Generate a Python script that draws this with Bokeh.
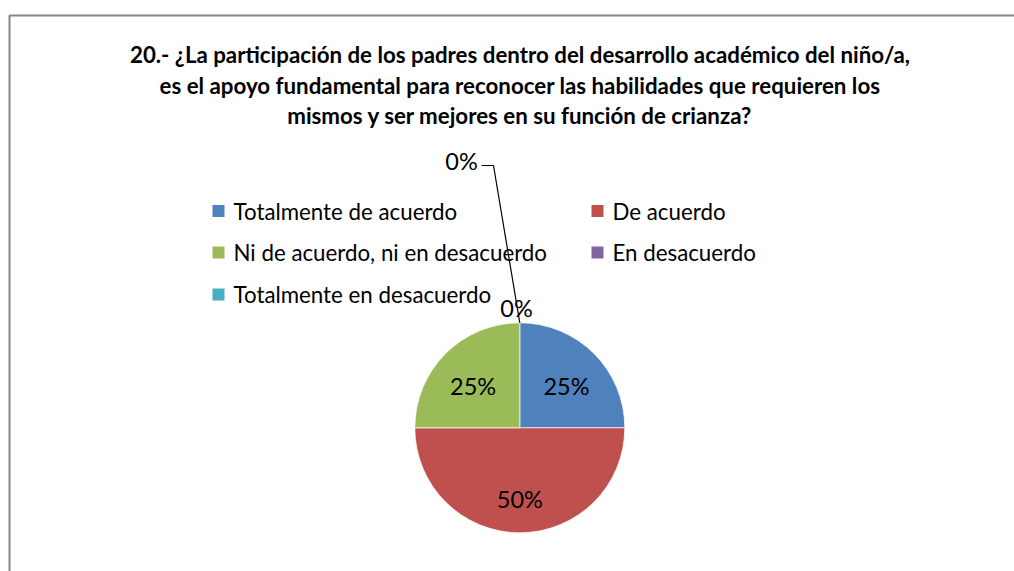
import math
from bokeh.plotting import figure
from bokeh.models import Range1d, ColumnDataSource
from bokeh.core.properties import value
from bokeh.embed import file_html
from bokeh.resources import INLINE

# ---- data ----
categories = ["Totalmente de acuerdo", "De acuerdo", "Ni de acuerdo, ni en desacuerdo",
              "En desacuerdo", "Totalmente en desacuerdo"]
percentages = [25, 50, 25, 0, 0]
colors = ["#4F81BD", "#C0504D", "#9BBB59", "#8064A2", "#4BACC6"]
title_lines = [
    "20.- ¿La participación de los padres dentro del desarrollo académico del niño/a,",
    "es el apoyo fundamental para reconocer las habilidades que requieren los",
    "mismos y ser mejores en su función de crianza?",
]

# ---- layout (figure pixel coords, y up) ----
W, H = 1014, 571
def fy(page_y):
    return H - page_y
def fx(page_x):
    return page_x

FONT = "Lato"
cx, cy, R = fx(519.3), fy(427.3), 105

p = figure(width=W, height=H, output_backend="svg", toolbar_location=None,
           x_range=Range1d(0, W), y_range=Range1d(0, H),
           x_axis_location=None, y_axis_location=None, min_border=0)
p.grid.visible = False
p.outline_line_color = None
p.background_fill_color = "white"
p.border_fill_color = "white"

# chart area border
p.line([fx(9), fx(9), fx(1030)], [fy(600), fy(15), fy(15)], line_color="#868686", line_width=2)

# title
for i, t in enumerate(title_lines):
    p.text([fx(519.5)], [fy(53 + i * 30.5)], text=[t], text_font=value(FONT),
           text_font_style="bold", text_font_size="22.3px", text_align="center",
           text_baseline="middle", text_color="#000000", y_offset=1)

# pie
total = float(sum(percentages))
starts, ends, mids = [], [], []
cum = 0.0
for v in percentages:
    a0 = math.pi / 2 - 2 * math.pi * cum / total
    cum += v
    a1 = math.pi / 2 - 2 * math.pi * cum / total
    starts.append(a0); ends.append(a1); mids.append((a0 + a1) / 2)

idx = [i for i, v in enumerate(percentages) if v > 0]
src = ColumnDataSource(dict(
    x=[cx] * len(idx), y=[cy] * len(idx),
    start=[starts[i] for i in idx], end=[ends[i] for i in idx],
    color=[colors[i] for i in idx]))
p.wedge(x="x", y="y", radius=R, radius_units="screen", start_angle="start",
        end_angle="end", direction="clock", fill_color="color",
        line_color="white", line_width=0.7, source=src)

# data labels of non-zero slices
lab_r = 66
lx = [cx + lab_r * math.cos(mids[i]) for i in idx]
ly = [cy + lab_r * math.sin(mids[i]) for i in idx]
p.text(lx, ly, text=[f"{percentages[i]}%" for i in idx], text_font=value(FONT),
       text_font_size="23.5px", text_align="center", text_baseline="middle",
       text_color="#000000", y_offset=5)

# zero-value labels (Excel pushes them out above the pie)
zero_idx = [i for i, v in enumerate(percentages) if v == 0]
top_x = cx + R * math.cos(starts[zero_idx[0]])
top_y = cy + R * math.sin(starts[zero_idx[0]])
zero_pos = [(fx(516), fy(307)), (fx(461), fy(160))]
p.text([zp[0] for zp in zero_pos], [zp[1] for zp in zero_pos],
       text=[f"{percentages[i]}%" for i in zero_idx], text_font=value(FONT),
       text_font_size="23.5px", text_align="center", text_baseline="middle",
       text_color="#000000")
p.line([fx(481), fx(493), top_x], [fy(165), fy(165), top_y], line_color="#000000", line_width=1.2)

# legend (2 columns)
col_x = [fx(218), fx(597)]
row_y = [fy(210.5), fy(252), fy(294)]
lg_x, lg_y, lg_c, lg_t, lt_x = [], [], [], [], []
for i, c in enumerate(categories):
    col, row = i % 2, i // 2
    lg_x.append(col_x[col]); lg_y.append(row_y[row]); lg_c.append(colors[i])
    lg_t.append(c); lt_x.append(col_x[col] + 15)
p.scatter(lg_x, lg_y, marker="square", size=12, fill_color=lg_c, line_color=None)
p.text(lt_x, lg_y, text=lg_t, text_font=value(FONT), text_font_size="22.3px",
       text_align="left", text_baseline="middle", text_color="#000000")

open("out.html", "w").write(file_html(p, INLINE))
